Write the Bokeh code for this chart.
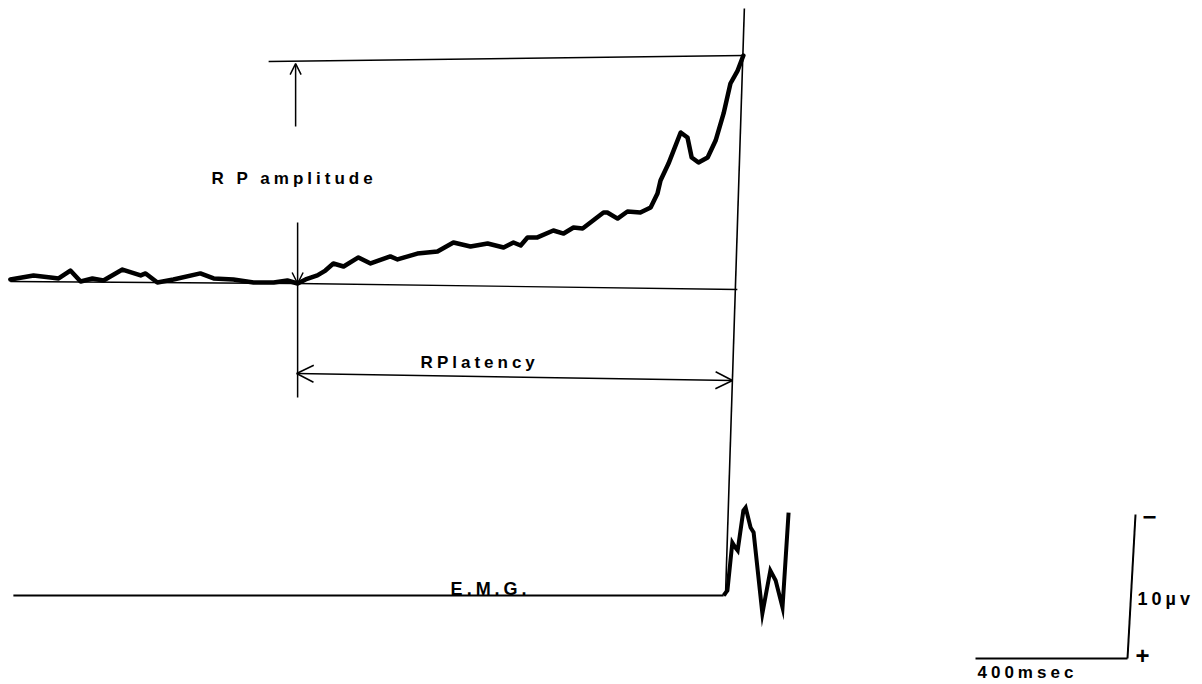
from bokeh.plotting import figure
from bokeh.models import Range1d, Label, Arrow, OpenHead, InlineStyleSheet
from bokeh.embed import file_html
from bokeh.resources import INLINE

# ---------------- data (time in ms relative to EMG onset, amplitude in µV; negative = up) ----
RP_T = [-1882, -1821, -1776, -1755, -1724, -1697, -1666, -1637, -1587, -1539, -1526, -1495,
        -1453, -1382, -1347, -1295, -1242, -1189, -1153, -1126, -1105, -1074, -1053, -1032,
        -1005, -966, -934, -882, -863, -811, -758, -716, -671, -626, -584, -558,
        -539, -521, -495, -453, -426, -400, -376, -321, -311, -284, -258, -224, -197,
        -179, -171, -150, -118, -100, -89, -71, -47, -26, -5, 13, 32, 47]
RP_V = [-0.21, -0.49, -0.35, -0.28, -0.83, -0.07, -0.28, -0.14, -0.90, -0.49, -0.63, 0.0,
        -0.21, -0.63, -0.28, -0.21, 0.0, 0.0, -0.14, 0.07, -0.21, -0.49, -0.83, -1.32,
        -1.11, -1.74, -1.32, -1.81, -1.60, -2.01, -2.15, -2.78, -2.50, -2.71, -2.43, -2.78,
        -2.57, -3.13, -3.13, -3.61, -3.40, -3.82, -3.75, -4.86, -4.86, -4.44, -4.93, -4.86,
        -5.21, -6.18, -7.08, -8.26, -10.42, -10.07, -8.68, -8.33, -8.68, -9.86, -11.74,
        -13.82, -14.72, -15.76]
ONSET_INDEX = 19          # sample where the RP departs from baseline

EMG_T = [-1874, -5, 5, 18, 26, 32, 47, 53, 66, 74, 97, 118, 132, 150, 166]
EMG_V = [0.0, 0.0, -0.35, -3.68, -3.33, -3.13, -5.90, -6.11, -4.72, -4.38, 1.25, -1.74,
         -1.04, 0.83, -5.76]
EMG_OFFSET = 21.74        # display offset of the EMG channel (µV)

SCALE_T = 400             # ms
SCALE_V = 10              # µV
LABELS = ["R P amplitude", "RPlatency", "E.M.G.", "10\u00b5v", "400msec", "\u2212", "+"]

# ---------------- geometry ----------------
W, H = 1202, 684
MS_PER_PX = 400 / 152.0
UV_PER_PX = 10 / 144.0
X0, Y0 = 725, 282                  # frame pixel of (t=0, v=0)

x_range = Range1d(-X0 * MS_PER_PX, (W - X0) * MS_PER_PX)
y_range = Range1d((H - Y0) * UV_PER_PX, -Y0 * UV_PER_PX)   # flipped: negative up

p = figure(width=W, height=H, x_range=x_range, y_range=y_range,
           output_backend="svg", toolbar_location=None,
           x_axis_type=None, y_axis_type=None, min_border=0,
           outline_line_color=None, background_fill_color="white",
           border_fill_color="white",
           stylesheets=[InlineStyleSheet(css=":host { letter-spacing: 4px; }")])
p.grid.visible = False

px = lambda n: n * MS_PER_PX
pv = lambda n: n * UV_PER_PX

onset_t, onset_v = RP_T[ONSET_INDEX], RP_V[ONSET_INDEX]
pk = min(range(len(RP_V)), key=lambda i: RP_V[i])
peak_t, peak_v = RP_T[pk], RP_V[pk]
top_v = y_range.end + pv(8)

# thin reference baseline
p.line([RP_T[0], onset_t, peak_t - px(6)], [RP_V[0] + pv(2), onset_v, onset_v + pv(6)],
       line_color="black", line_width=1.4)
# top reference line at the peak
p.line([onset_t - px(29), peak_t], [peak_v + pv(6), peak_v], line_color="black", line_width=1.4)
# movement-onset marker (slightly slanted, hand drawn)
p.line([peak_t + px(1), 0], [top_v, EMG_OFFSET], line_color="black", line_width=1.6)

# RP waveform
p.line(RP_T, RP_V, line_color="black", line_width=4.5, line_join="round", line_cap="round")

# EMG channel: baseline then burst
p.line(EMG_T[:2], [EMG_OFFSET + v for v in EMG_V[:2]], line_color="black", line_width=2)
p.line(EMG_T[1:], [EMG_OFFSET + v for v in EMG_V[1:]], line_color="black", line_width=4,
       line_join="miter", line_cap="butt")

# amplitude arrow (up) and onset arrow (down)
p.add_layout(Arrow(x_start=onset_t - px(2), y_start=peak_v + pv(71),
                   x_end=onset_t - px(2), y_end=peak_v + pv(8),
                   end=OpenHead(size=11, line_width=1.5), line_width=1.5))
p.add_layout(Arrow(x_start=onset_t, y_start=onset_v - pv(61),
                   x_end=onset_t, y_end=onset_v,
                   end=OpenHead(size=11, line_width=1.5), line_width=1.5))
p.line([onset_t, onset_t], [onset_v, onset_v + pv(114)], line_color="black", line_width=1.5)

# latency arrow
p.add_layout(Arrow(x_start=onset_t - px(1), y_start=onset_v + pv(90),
                   x_end=px(7), y_end=onset_v + pv(97),
                   start=OpenHead(size=17, line_width=1.5),
                   end=OpenHead(size=17, line_width=1.5), line_width=1.5))

# calibration bars
cx, cy = px(402), pv(376)
p.line([cx - SCALE_T, cx], [cy, cy], line_color="black", line_width=2)
p.line([cx, cx + px(8)], [cy, cy - SCALE_V], line_color="black", line_width=2)

def lab(text, x, y, size, baseline="alphabetic"):
    p.add_layout(Label(x=x, y=y, text=text, text_align="left", text_baseline=baseline,
                       text_font="Liberation Sans", text_font_size=f"{size}px",
                       text_font_style="bold", text_color="black"))

lab(LABELS[0], onset_t - px(86), peak_v + pv(123), 17)
lab(LABELS[1], onset_t + px(123), onset_v + pv(79), 17)
lab(LABELS[2], onset_t + px(153), EMG_OFFSET - pv(7), 18)
lab(LABELS[3], cx + px(10), cy - pv(60), 18)
lab(LABELS[4], cx - SCALE_T + px(2), cy + pv(14), 17)
lab(LABELS[5], cx + px(15), cy - SCALE_V + pv(2), 24, baseline="middle")
lab(LABELS[6], cx + px(8), cy - pv(3), 24, baseline="middle")

open("out.html", "w").write(file_html(p, INLINE))
